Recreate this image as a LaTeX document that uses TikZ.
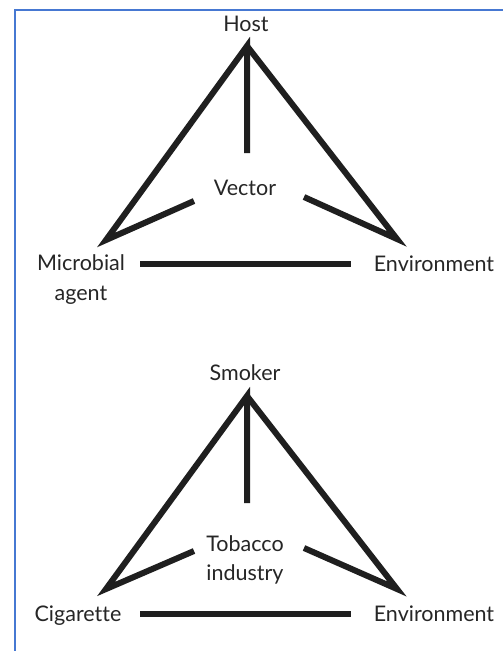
\documentclass[tikz,border=0pt]{standalone}
\usepackage{fontspec}
\setmainfont{Lato}[Ligatures=NoCommon]
\begin{document}
\begin{tikzpicture}[x=1pt,y=-1pt,
  bar/.style={line width=6pt,draw=black!88,line join=miter,miter limit=10},
  lab/.style={inner sep=0pt,anchor=base,font=\fontsize{21.5}{29.5}\selectfont,text=black!85,align=center}]
\useasboundingbox (0,0) rectangle (503,651);
\fill[white] (0,0) rectangle (503,651);
\draw[line width=1.5pt,draw={rgb,255:red,70;green,120;blue,210}] (15,651) -- (15,10) -- (503,10);
% top triangle
\coordinate (hA) at (247,46);
\coordinate (hL) at (106,240);
\coordinate (hR) at (397,239);
\coordinate (hV) at (247,153);
\coordinate (hLs) at (194,201);
\coordinate (hRs) at (304,197);
\coordinate (hB1) at (140,264);
\coordinate (hB2) at (351,264);
\node[lab] (host) at (246,31.5) {Host};
\node[lab] (vector) at (245,195) {Vector};
\node[lab] (micro) at (81,300) {Microbial\\agent};
\node[lab] (env1) at (434,271.5) {Environment};
\draw[bar] (hV) -- (hA) -- (hL) -- (hLs);
\draw[bar] (hA) -- (hR) -- (hRs);
\draw[bar] (hB1) -- (hB2);
% bottom triangle
\coordinate (sA) at (247,396);
\coordinate (sL) at (106,589);
\coordinate (sR) at (397,589);
\coordinate (sV) at (247,503);
\coordinate (sLs) at (194,551);
\coordinate (sRs) at (304,548);
\coordinate (sB1) at (140,614);
\coordinate (sB2) at (351,614);
\node[lab] (smoker) at (245,380) {Smoker};
\node[lab,font=\fontsize{21.5}{29}\selectfont] (tob) at (245,580) {Tobacco\\industry};
\node[lab] (cig) at (78,621.5) {Cigarette};
\node[lab] (env2) at (434,621.5) {Environment};
\draw[bar] (sV) -- (sA) -- (sL) -- (sLs);
\draw[bar] (sA) -- (sR) -- (sRs);
\draw[bar] (sB1) -- (sB2);
\end{tikzpicture}
\end{document}
